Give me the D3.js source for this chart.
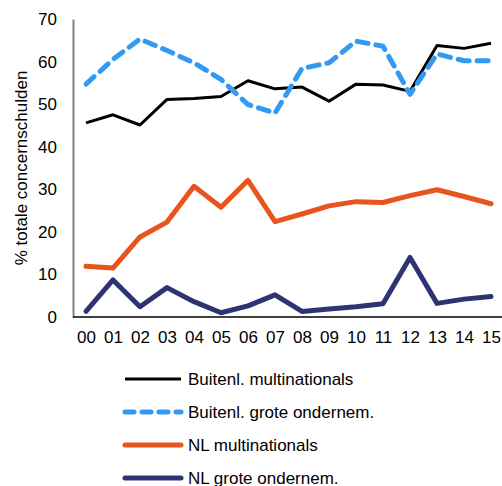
<!DOCTYPE html>
<html><head><meta charset="utf-8">
<script src="https://cdn.jsdelivr.net/npm/d3@7"></script>
<style>body{margin:0;background:#fff}svg{display:block;font-family:"Liberation Sans",Arial,sans-serif}</style>
</head><body><svg id="c" width="502" height="486"></svg>
<script>
const years = ["00","01","02","03","04","05","06","07","08","09","10","11","12","13","14","15"];
const buitenlMulti = [45.6,47.5,45.1,51.1,51.3,51.8,55.5,53.6,54.0,50.7,54.7,54.5,53.0,63.8,63.1,64.3];
const buitenlGrote = [54.7,60.5,65.3,62.6,59.7,55.8,49.9,47.9,58.4,59.7,64.8,63.6,52.3,61.8,60.2,60.2];
const nlMulti = [11.9,11.5,18.8,22.3,30.7,25.8,32.1,22.4,24.2,26.1,27.1,26.9,28.5,29.9,28.3,26.6];
const nlGrote = [1.3,8.7,2.4,6.9,3.6,1.0,2.6,5.2,1.3,1.9,2.4,3.1,14.0,3.2,4.2,4.8];
const yTicks = [0,10,20,30,40,50,60,70];
const seriesNames = ["Buitenl. multinationals","Buitenl. grote ondernem.","NL multinationals","NL grote ondernem."];

const series = [
  {name: seriesNames[0], values: buitenlMulti, color: "#000000", width: 3, dash: null, cap: "butt"},
  {name: seriesNames[1], values: buitenlGrote, color: "#3399F3", width: 5, dash: "11,8", cap: "round"},
  {name: seriesNames[2], values: nlMulti, color: "#E8531E", width: 5, dash: null, cap: "round"},
  {name: seriesNames[3], values: nlGrote, color: "#2E3473", width: 5, dash: null, cap: "round"}
];

const FS = 17;
const svg = d3.select("#c");
const mLeft = 73, mTop = 19, mBottom = 317;
const x = d3.scalePoint().domain(years).range([86, 491]);
const y = d3.scaleLinear().domain([0,70]).range([mBottom, mTop]);

// axes
const gy = svg.append("g").attr("transform", `translate(${mLeft},0)`)
  .call(d3.axisLeft(y).tickValues(yTicks).tickSize(0).tickPadding(16));
gy.select(".domain").attr("stroke", "#808080").attr("stroke-width", 2);
gy.selectAll("text").attr("font-size", FS).attr("fill", "#000").attr("font-family", "Liberation Sans, Arial, sans-serif");

const gx = svg.append("g").attr("transform", `translate(0,${mBottom})`)
  .call(d3.axisBottom(x).tickSize(0).tickPadding(14));
gx.select(".domain").attr("d", `M${mLeft},0H502`).attr("stroke", "#000").attr("stroke-width", 1.5);
gx.selectAll("text").attr("font-size", FS).attr("fill", "#000").attr("font-family", "Liberation Sans, Arial, sans-serif");

svg.append("text").attr("transform", "translate(27,168) rotate(-90)")
  .attr("text-anchor", "middle").attr("font-size", FS).text("% totale concernschulden");

const line = d3.line().x((d,i) => x(years[i])).y(d => y(d));
series.forEach(s => {
  svg.append("path").datum(s.values).attr("d", line)
    .attr("fill", "none").attr("stroke", s.color).attr("stroke-width", s.width)
    .attr("stroke-linejoin", "round").attr("stroke-linecap", s.cap)
    .attr("stroke-dasharray", s.dash);
});

// legend
const lg = svg.append("g");
series.forEach((s, i) => {
  const yy = 379 + i * 33;
  lg.append("line").attr("x1", 125).attr("x2", 181).attr("y1", yy).attr("y2", yy)
    .attr("stroke", s.color).attr("stroke-width", s.width)
    .attr("stroke-linecap", s.cap).attr("stroke-dasharray", s.dash ? "9,8" : null);
  lg.append("text").attr("x", 188).attr("y", yy).attr("dy", "0.35em")
    .attr("font-size", FS).text(s.name);
});
</script></body></html>
